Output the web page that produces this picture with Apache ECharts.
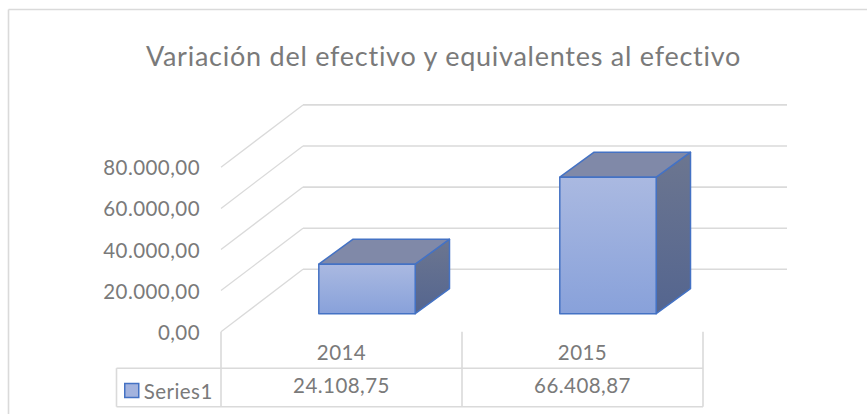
<!DOCTYPE html>
<html><head><meta charset="utf-8">
<style>html,body{margin:0;padding:0;background:#fff}#c{width:867px;height:414px}
#c text{font-variant-ligatures:none}</style>
<script src="https://cdn.jsdelivr.net/npm/echarts@6/dist/echarts.min.js"></script>
</head><body><div id="c"></div>
<script>
const titleText = 'Variación del efectivo y equivalentes al efectivo';
const categories = ['2014', '2015'];
const seriesName = 'Series1';
const values = [24108.75, 66408.87];
const tickValues = [0, 20000, 40000, 60000, 80000];

function fmt(v) {
  const p = Number(v).toFixed(2).split('.');
  return p[0].replace(/\B(?=(\d{3})+$)/g, '.') + ',' + p[1];
}
const FONT = 'Lato';
const TEXT = '#7a7a7a', LINE = '#dadada', EDGE = '#4472c4';
const DX = 82, DY = -62.4;           // depth of the floor
const chart = echarts.init(document.getElementById('c'), null, {renderer: 'svg'});
const G = echarts.graphic;
const ln = (x1, y1, x2, y2, w) => ({type: 'line', shape: {x1, y1, x2, y2}, style: {stroke: LINE, lineWidth: w || 1.6, fill: null}});

chart.setOption({
  animation: false,
  backgroundColor: '#fff',
  title: {text: titleText, left: 438.5, top: 37, textAlign: 'center',
    textStyle: {fontFamily: FONT, fontSize: 27, fontWeight: 'normal', color: TEXT}},
  legend: {data: [seriesName], left: 119, top: 375, itemWidth: 14, itemHeight: 14, itemGap: 3, icon: 'rect', selectedMode: false,
    textStyle: {fontFamily: FONT, fontSize: 20.5, color: TEXT, padding: [0, 0, 0, 0]},
    itemStyle: {color: '#a3b3de', borderColor: EDGE, borderWidth: 1.5}},
  grid: {left: 221, right: 164, top: 167.3, height: 164.4},
  xAxis: {type: 'category', data: categories, axisLine: {show: false}, axisTick: {show: false}, splitLine: {show: false},
    axisLabel: {interval: 0, margin: 4, lineHeight: 33, fontFamily: FONT, fontSize: 20.5, color: TEXT,
      formatter: (v, i) => v + '\n' + fmt(values[i])}},
  yAxis: {type: 'value', min: tickValues[0], max: tickValues[tickValues.length - 1], interval: tickValues[1] - tickValues[0],
    axisLine: {show: false}, axisTick: {show: false}, splitLine: {show: false},
    axisLabel: {margin: 21, padding: [0, 0, 2, 0], fontFamily: FONT, fontSize: 20.5, color: TEXT, formatter: fmt}},
  series: [
    {type: 'custom', name: 'frame', silent: true, z: 1, clip: false, data: [0], encode: {x: 0},
      renderItem(params, api) {
        const band = api.size([1, 0])[0];
        const x0 = api.coord([0, 0])[0] - band / 2;
        const x1 = x0 + band * categories.length;
        const cs = [];
        tickValues.forEach(t => {
          const y = api.coord([0, t])[1];
          cs.push(ln(x0, y, x0 + DX, y + DY, 1.3));
          cs.push(ln(x0 + DX, y + DY, x1 + DX + 2, y + DY));
        });
        const y0 = api.coord([0, 0])[1], top = y0 + 36.5, bot = y0 + 75;
        for (let i = 0; i <= categories.length; i++) cs.push(ln(x0 + band * i, y0, x0 + band * i, bot));
        cs.push(ln(x0 - 104.5, top, x1, top), ln(x0 - 104.5, bot, x1, bot), ln(x0 - 104.5, top, x0 - 104.5, bot));
        // outer chart frame
        cs.push(ln(8.5, 9.5, 867, 9.5), ln(8.5, 9.5, 8.5, 414));
        return {type: 'group', children: cs};
      }},
    {type: 'custom', name: seriesName, silent: true, z: 3, clip: false,
      data: values.map((v, i) => [i, v]), encode: {x: 0, y: 1},
      renderItem(params, api) {
        const i = api.value(0), v = api.value(1);
        const band = api.size([1, 0])[0], w = band * 0.4;
        const base = api.coord([i, 0]), head = api.coord([i, v]);
        const sx = 25.5, sy = -18, dx = 34.3, dy = -25;
        const l = base[0] - w / 2 + sx, r = l + w, b = base[1] + sy, t = head[1] + sy;
        const st = {stroke: EDGE, lineWidth: 1.5, lineJoin: 'round'};
        const face = (pts, fill) => ({type: 'polygon', shape: {points: pts}, style: Object.assign({fill}, st)});
        return {type: 'group', children: [
          face([[r, b], [r + dx, b + dy], [r + dx, t + dy], [r, t]],
            new G.LinearGradient(0, 0, 0, 1, [{offset: 0, color: '#6c7690'}, {offset: 1, color: '#54658f'}])),
          face([[l, t], [l + dx, t + dy], [r + dx, t + dy], [r, t]], '#8089a8'),
          face([[l, b], [l, t], [r, t], [r, b]],
            new G.LinearGradient(0, 0, 0, 1, [{offset: 0, color: '#aab9e1'}, {offset: 1, color: '#88a1da'}]))
        ]};
      }}
  ]
});
document.querySelectorAll('#c text').forEach(el => {
  el.style.letterSpacing = el.textContent === titleText ? '0.75px' : '0.45px';
});
</script></body></html>
